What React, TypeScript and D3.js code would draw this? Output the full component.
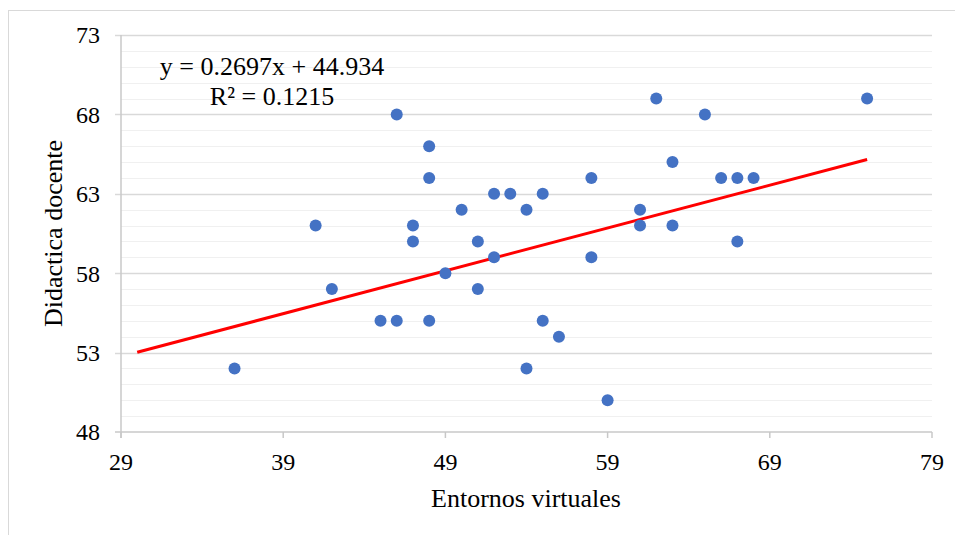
import * as d3 from 'd3';

// Entornos virtuales (x) vs Didactica docente (y)
const entornos = [
  36, 41, 42, 45, 46, 46, 47, 47, 48, 48, 48, 49, 50, 51, 51, 52, 52, 53, 54,
  54, 55, 55, 56, 58, 58, 59, 61, 61, 62, 63, 63, 65, 66, 67, 67, 68, 75,
];
const didactica = [
  52, 61, 57, 55, 55, 68, 61, 60, 66, 64, 55, 58, 62, 60, 57, 63, 59, 63, 62,
  52, 63, 55, 54, 64, 59, 50, 62, 61, 69, 65, 61, 68, 64, 64, 60, 64, 69,
];

const xTicks = [29, 39, 49, 59, 69, 79];
const yTicks = [48, 53, 58, 63, 68, 73];

const slope = 0.2697;
const intercept = 44.934;
const trendRange = [30, 75];

const serif = 'Liberation Serif, Times New Roman, serif';

export default function App() {
  const x = d3.scaleLinear().domain([29, 79]).range([121, 932]);
  const y = d3.scaleLinear().domain([48, 73]).range([432, 35]);

  const minor = d3.range(48, 74).filter((v) => (v - 48) % 5 !== 0);

  const trend = d3
    .line<number>()
    .x((d) => x(d))
    .y((d) => y(slope * d + intercept));

  return (
    <svg
      width={955}
      height={535}
      style={{ position: 'absolute', left: 0, top: 0, background: '#fff' }}
    >
      <rect x={8.5} y={10.5} width={1000} height={600} fill='#fff' stroke='#d9d9d9' />

      {minor.map((v) => (
        <line
          key={'m' + v}
          x1={x(29)}
          x2={x(79)}
          y1={Math.round(y(v)) + 0.5}
          y2={Math.round(y(v)) + 0.5}
          stroke='#f0f0f0'
          strokeWidth={1.2}
        />
      ))}
      {yTicks.slice(1).map((v) => (
        <line
          key={'g' + v}
          x1={x(29) - 6}
          x2={x(79)}
          y1={Math.round(y(v)) + 0.5}
          y2={Math.round(y(v)) + 0.5}
          stroke='#d9d9d9'
          strokeWidth={1.5}
        />
      ))}

      {/* axes */}
      <line x1={x(29) - 6} x2={x(79)} y1={y(48)} y2={y(48)} stroke='#c8c8c8' strokeWidth={1.5} />
      <line x1={x(29)} x2={x(29)} y1={y(73)} y2={y(48) + 6} stroke='#c8c8c8' strokeWidth={1.5} />
      {xTicks.map((v) => (
        <line key={'xt' + v} x1={x(v)} x2={x(v)} y1={y(48)} y2={y(48) + 6} stroke='#c8c8c8' strokeWidth={1.5} />
      ))}

      {yTicks.map((v) => (
        <text
          key={'yl' + v}
          x={100}
          y={y(v)}
          dy='0.35em'
          textAnchor='end'
          fontSize={24}
          fontFamily={serif}
          fill='#000'
        >
          {v}
        </text>
      ))}
      {xTicks.map((v) => (
        <text
          key={'xl' + v}
          x={x(v)}
          y={470}
          textAnchor='middle'
          fontSize={24}
          fontFamily={serif}
          fill='#000'
        >
          {v}
        </text>
      ))}

      <path d={trend(trendRange) ?? ''} stroke='#ff0000' strokeWidth={3} fill='none' />

      {entornos.map((v, i) => (
        <circle key={i} cx={x(v)} cy={y(didactica[i])} r={6} fill='#4472c4' />
      ))}

      <text x={272} y={75} textAnchor='middle' fontSize={26} fontFamily={serif} fill='#000'>
        y = 0.2697x + 44.934
      </text>
      <text x={272} y={105} textAnchor='middle' fontSize={26} fontFamily={serif} fill='#000'>
        R² = 0.1215
      </text>

      <text x={526} y={507} textAnchor='middle' fontSize={26} fontFamily={serif} fill='#000'>
        Entornos virtuales
      </text>
      <text
        transform={`translate(62,${(y(48) + y(73)) / 2}) rotate(-90)`}
        textAnchor='middle'
        fontSize={26}
        fontFamily={serif}
        fill='#000'
      >
        Didactica docente
      </text>
    </svg>
  );
}
